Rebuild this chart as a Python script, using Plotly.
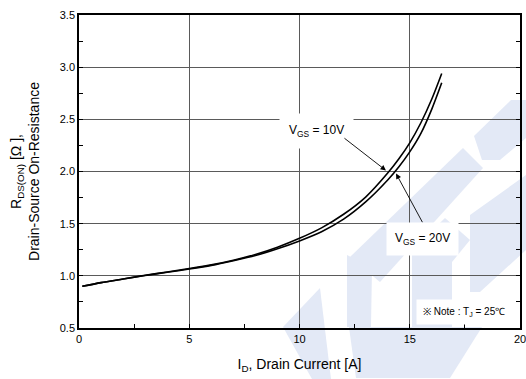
import plotly.graph_objects as go

# ---- data ----
drain_current = [0.15, 1, 2, 3, 4, 5, 6, 7, 8, 9, 10, 11, 12, 13, 14, 14.5, 15, 15.5, 16, 16.45]
rds_vgs10 = [0.90, 0.935, 0.97, 1.005, 1.037, 1.07, 1.105, 1.15, 1.205, 1.275, 1.36, 1.46, 1.59, 1.755, 1.985, 2.12, 2.275, 2.465, 2.695, 2.94]
rds_vgs20 = [0.90, 0.935, 0.969, 1.003, 1.034, 1.065, 1.10, 1.145, 1.195, 1.26, 1.335, 1.423, 1.543, 1.708, 1.918, 2.043, 2.188, 2.363, 2.598, 2.85]
x_ticks = [0, 5, 10, 15, 20]
y_ticks = [0.5, 1.0, 1.5, 2.0, 2.5, 3.0, 3.5]

W, H = 526, 379
L, R, T, B = 79, 6, 15, 51
FONT = "Liberation Sans, Arial, sans-serif"

fig = go.Figure()
fig.add_trace(go.Scatter(x=drain_current, y=rds_vgs10, mode="lines",
                         line=dict(color="black", width=1.6, shape="spline", smoothing=0.8),
                         showlegend=False, name="VGS = 10V"))
fig.add_trace(go.Scatter(x=drain_current, y=rds_vgs20, mode="lines",
                         line=dict(color="black", width=1.6, shape="spline", smoothing=0.8),
                         showlegend=False, name="VGS = 20V"))
# helper trace for right-side tick axis
fig.add_trace(go.Scatter(x=[None], y=[None], yaxis="y2", showlegend=False, hoverinfo="skip"))

# ---- faint background watermark (decoration), pixel polygons ----
def px2paper(pts):
    pw, ph = W - L - R, H - T - B
    return [((x - L) / pw, (H - B - y) / ph) for x, y in pts]

watermark = [
    [(474, 136), (511, 100), (526, 100), (526, 138), (500, 160), (482, 160)],
    [(350, 257), (463, 148), (483, 168), (380, 282)],
    [(347, 255), (372, 268), (371, 327), (347, 327)],
    [(349, 327), (482, 327), (450, 378), (356, 378)],
    [(283, 327), (320, 288), (331, 379), (312, 379)],
    [(412, 250), (445, 218), (470, 240), (452, 262), (452, 327), (412, 327)],
    [(470, 215), (526, 175), (526, 250), (480, 292), (470, 292)],
]
shapes = []
for poly in watermark:
    pp = px2paper(poly)
    path = "M " + " L ".join(f"{a:.4f},{b:.4f}" for a, b in pp) + " Z"
    shapes.append(dict(type="path", path=path, xref="paper", yref="paper",
                       fillcolor="#e3e9f6", line=dict(width=0), layer="below"))

ann_font = dict(family=FONT, size=12, color="black")
annotations = [
    dict(x=10.75, y=2.39, xref="x", yref="y", text="V<sub>GS</sub> = 10V", showarrow=False,
         font=ann_font, bgcolor="white", borderpad=9),
    dict(x=15.6, y=1.35, xref="x", yref="y", text="V<sub>GS</sub> = 20V", showarrow=False,
         font=ann_font, bgcolor="white", borderpad=8),
    dict(x=13.92, y=2.01, ax=11.97, ay=2.33, xref="x", yref="y", axref="x", ayref="y",
         text="", showarrow=True, arrowhead=2, arrowsize=1.2, arrowwidth=0.9, arrowcolor="black"),
    dict(x=14.38, y=1.98, ax=15.61, ay=1.50, xref="x", yref="y", axref="x", ayref="y",
         text="", showarrow=True, arrowhead=2, arrowsize=1.2, arrowwidth=0.9, arrowcolor="black"),
    dict(x=17.48, y=0.655, xref="x", yref="y", text="※ Note : T<sub>J</sub> = 25℃", showarrow=False,
         font=dict(family=FONT, size=10, color="black"), bgcolor="white", borderpad=6),
]

fig.update_layout(
    width=W, height=H,
    margin=dict(l=L, r=R, t=T, b=B, pad=0, autoexpand=False),
    paper_bgcolor="white", plot_bgcolor="rgba(0,0,0,0)",
    font=dict(family=FONT, size=11, color="black"),
    shapes=shapes, annotations=annotations,
    xaxis=dict(range=[0, 20], tickvals=x_ticks, ticktext=[str(v) for v in x_ticks],
               ticks="inside", ticklen=4, tickcolor="black", automargin=False,
               ticklabeloverflow="allow",
               minor=dict(dtick=2.5, tick0=0, ticks="inside", ticklen=4, tickcolor="black", showgrid=False),
               showgrid=True, gridcolor="#5a5a5a", gridwidth=1,
               showline=True, linecolor="black", linewidth=1.5, mirror=True, zeroline=False,
               tickfont=dict(size=11),
               title=dict(text="I<sub>D</sub>, Drain Current [A]", font=dict(size=14), standoff=15)),
    yaxis=dict(range=[0.5, 3.5], tickvals=y_ticks, ticktext=[f"{v:.1f}" for v in y_ticks],
               ticks="inside", ticklen=4, tickcolor="black", automargin=False,
               ticklabeloverflow="allow",
               minor=dict(dtick=0.25, tick0=0.5, ticks="inside", ticklen=4, tickcolor="black", showgrid=False),
               showgrid=True, gridcolor="#5a5a5a", gridwidth=1,
               showline=True, linecolor="black", linewidth=1.5, mirror=True, zeroline=False,
               tickfont=dict(size=11),
               title=dict(text="R<sub>DS(ON)</sub> [Ω ],<br>Drain-Source On-Resistance",
                          font=dict(size=14), standoff=17)),
    yaxis2=dict(range=[0.5, 3.5], overlaying="y", side="right", tickvals=y_ticks,
                showticklabels=False, ticks="inside", ticklen=4, tickcolor="black", automargin=False,
                minor=dict(dtick=0.25, tick0=0.5, ticks="inside", ticklen=4, tickcolor="black"),
                showgrid=False, zeroline=False, showline=False),
)

fig.write_html("out.html", config={"displayModeBar": False},
               post_script="document.body.style.margin='0';document.body.style.overflow='hidden';")
